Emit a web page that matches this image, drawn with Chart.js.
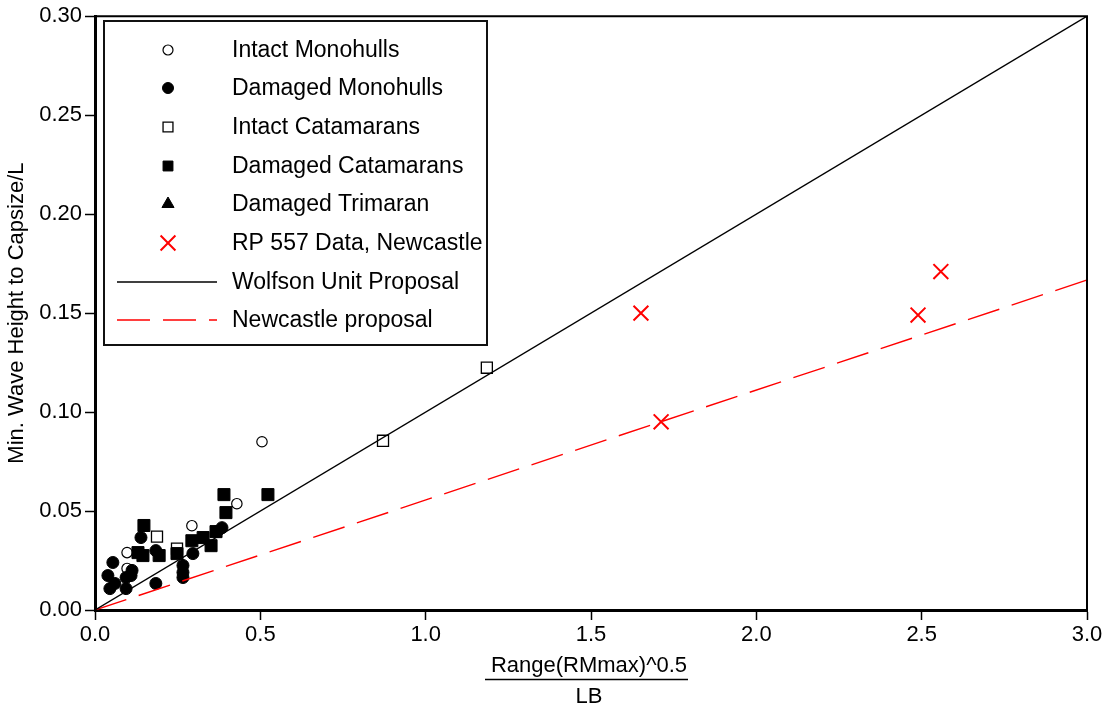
<!DOCTYPE html>
<html>
<head>
<meta charset="utf-8">
<script src="https://cdn.jsdelivr.net/npm/chart.js@4.4.1/dist/chart.umd.min.js"></script>
<style>
  html, body { margin: 0; padding: 0; background: #fff; }
  #wrap { width: 1111px; height: 710px; }
</style>
</head>
<body>
<div id="wrap"><canvas id="capsizeChart" width="1111" height="710"></canvas></div>
<script>
// ----- data -----
const intactMonoX = [0.505, 0.429, 0.293, 0.097, 0.097];
const intactMonoY = [0.085, 0.0537, 0.0426, 0.029, 0.021];

const damagedMonoX = [0.139, 0.054, 0.039, 0.060, 0.045, 0.094, 0.094, 0.112, 0.109, 0.184, 0.184, 0.266, 0.266, 0.266, 0.296, 0.384, 0.369];
const damagedMonoY = [0.0366, 0.024, 0.0174, 0.0134, 0.0108, 0.0108, 0.0164, 0.020, 0.0174, 0.0134, 0.030, 0.0225, 0.019, 0.0164, 0.0285, 0.0416, 0.0396];

const intactCatX = [0.871, 1.185, 0.1875, 0.248];
const intactCatY = [0.0855, 0.1224, 0.0371, 0.031];

const damagedCatX = [0.148, 0.130, 0.145, 0.194, 0.248, 0.293, 0.327, 0.351, 0.366, 0.390, 0.396, 0.523];
const damagedCatY = [0.0427, 0.029, 0.0275, 0.0275, 0.0285, 0.035, 0.0366, 0.0325, 0.0396, 0.0583, 0.0492, 0.0583];

const damagedTriX = [];
const damagedTriY = [];

const rp557X = [1.651, 1.712, 2.489, 2.558];
const rp557Y = [0.150, 0.0951, 0.149, 0.171];

const wolfsonX = [0, 3.0];
const wolfsonY = [0, 0.30];
const newcastleX = [0, 3.0];
const newcastleY = [0, 0.1667];

const xTicks = [0, 0.5, 1.0, 1.5, 2.0, 2.5, 3.0];
const yTicks = [0, 0.05, 0.10, 0.15, 0.20, 0.25, 0.30];

const seriesLabels = [
    'Intact Monohulls',
    'Damaged Monohulls',
    'Intact Catamarans',
    'Damaged Catamarans',
    'Damaged Trimaran',
    'RP 557 Data, Newcastle',
    'Wolfson Unit Proposal',
    'Newcastle proposal'
];

const FONT = '"Liberation Sans", Arial, Helvetica, sans-serif';
Chart.defaults.font.family = FONT;
Chart.defaults.color = '#000';

function zip(xs, ys) {
    return xs.map((x, i) => ({ x: x, y: ys[i] }));
}

// legend box drawn inside the plot, top-left
const boxLegend = {
    id: 'boxLegend',
    afterDraw(chart) {
        const ctx = chart.ctx;
        const left = 104, top = 21, right = 487, bottom = 345;
        const symX = 168, textX = 232;
        const rowY = [50, 88, 127, 166, 204, 243, 282, 320];

        ctx.save();
        ctx.fillStyle = '#fff';
        ctx.fillRect(left, top, right - left, bottom - top);
        ctx.strokeStyle = '#111';
        ctx.lineWidth = 2;
        ctx.strokeRect(left, top, right - left, bottom - top);

        chart.data.datasets.forEach((ds, i) => {
            const y = rowY[i];
            if (ds.showLine) {
                ctx.beginPath();
                ctx.strokeStyle = ds.borderColor;
                ctx.lineWidth = ds.borderWidth;
                ctx.setLineDash(ds.borderDash || []);
                ctx.moveTo(117, y);
                ctx.lineTo(217, y);
                ctx.stroke();
                ctx.setLineDash([]);
            } else {
                ctx.fillStyle = ds.backgroundColor;
                ctx.strokeStyle = ds.borderColor;
                ctx.lineWidth = ds.borderWidth;
                Chart.helpers.drawPoint(ctx, {
                    pointStyle: ds.pointStyle,
                    radius: ds.legendRadius || ds.pointRadius,
                    rotation: 0,
                    borderWidth: ds.borderWidth
                }, symX, y);
            }
            ctx.fillStyle = '#000';
            ctx.font = '23px ' + FONT;
            ctx.textAlign = 'left';
            ctx.textBaseline = 'middle';
            ctx.fillText(ds.label, textX, y + 1);
        });
        ctx.restore();
    }
};

// frame on top/right and the fraction-style x title
const frameAndTitle = {
    id: 'frameAndTitle',
    afterDraw(chart) {
        const ctx = chart.ctx;
        const a = chart.chartArea;
        ctx.save();
        ctx.strokeStyle = '#000';
        ctx.lineWidth = 2;
        ctx.beginPath();
        ctx.moveTo(a.left, a.top);
        ctx.lineTo(a.right, a.top);
        ctx.lineTo(a.right, a.bottom);
        ctx.stroke();

        const cx = 589;
        ctx.fillStyle = '#000';
        ctx.font = '22px ' + FONT;
        ctx.textAlign = 'center';
        ctx.textBaseline = 'alphabetic';
        ctx.fillText('Range(RMmax)^0.5', cx, 672);
        ctx.lineWidth = 1.5;
        ctx.beginPath();
        ctx.moveTo(485, 679.5);
        ctx.lineTo(688, 679.5);
        ctx.stroke();
        ctx.fillText('LB', cx, 703);
        ctx.restore();
    }
};

const ctx = document.getElementById('capsizeChart').getContext('2d');
new Chart(ctx, {
    type: 'scatter',
    data: {
        datasets: [
            {
                label: seriesLabels[0],
                data: zip(intactMonoX, intactMonoY),
                pointStyle: 'circle',
                pointRadius: 5.2,
                legendRadius: 5,
                backgroundColor: '#fff',
                borderColor: '#000',
                borderWidth: 1.2,
                order: 6
            },
            {
                label: seriesLabels[1],
                data: zip(damagedMonoX, damagedMonoY),
                pointStyle: 'circle',
                pointRadius: 6,
                legendRadius: 5.5,
                backgroundColor: '#000',
                borderColor: '#000',
                borderWidth: 1,
                order: 3
            },
            {
                label: seriesLabels[2],
                data: zip(intactCatX, intactCatY),
                pointStyle: 'rect',
                pointRadius: 7.8,
                legendRadius: 7,
                backgroundColor: '#fff',
                borderColor: '#000',
                borderWidth: 1.3,
                order: 5
            },
            {
                label: seriesLabels[3],
                data: zip(damagedCatX, damagedCatY),
                pointStyle: 'rect',
                pointRadius: 8.5,
                legendRadius: 7,
                backgroundColor: '#000',
                borderColor: '#000',
                borderWidth: 1,
                order: 2
            },
            {
                label: seriesLabels[4],
                data: zip(damagedTriX, damagedTriY),
                pointStyle: 'triangle',
                pointRadius: 7,
                backgroundColor: '#000',
                borderColor: '#000',
                borderWidth: 1,
                order: 4
            },
            {
                label: seriesLabels[5],
                data: zip(rp557X, rp557Y),
                pointStyle: 'crossRot',
                pointRadius: 10.5,
                backgroundColor: '#ff0000',
                borderColor: '#ff0000',
                borderWidth: 2,
                order: -1
            },
            {
                label: seriesLabels[6],
                data: zip(wolfsonX, wolfsonY),
                showLine: true,
                pointRadius: 0,
                borderColor: '#000',
                borderWidth: 1.4,
                order: 0
            },
            {
                label: seriesLabels[7],
                data: zip(newcastleX, newcastleY),
                showLine: true,
                pointRadius: 0,
                borderColor: '#ff0000',
                borderWidth: 1.4,
                borderDash: [33, 13],
                order: 1
            }
        ]
    },
    options: {
        responsive: false,
        animation: false,
        layout: { padding: { left: 0, top: 15, right: 24, bottom: 0 } },
        plugins: {
            legend: { display: false },
            tooltip: { enabled: false }
        },
        scales: {
            x: {
                type: 'linear',
                min: 0,
                max: 3,
                afterFit: (scale) => { scale.height = 100; },
                afterBuildTicks: (scale) => { scale.ticks = xTicks.map(v => ({ value: v })); },
                ticks: {
                    font: { size: 22 },
                    color: '#000',
                    padding: 2,
                    maxRotation: 0,
                    callback: (v) => Number(v).toFixed(1)
                },
                grid: {
                    drawOnChartArea: false,
                    drawTicks: true,
                    tickLength: 10,
                    tickWidth: 1.5,
                    tickColor: '#000'
                },
                border: { display: true, color: '#000', width: 3 }
            },
            y: {
                type: 'linear',
                min: 0,
                max: 0.3,
                afterFit: (scale) => { scale.width = 95; },
                afterBuildTicks: (scale) => { scale.ticks = yTicks.map(v => ({ value: v })); },
                ticks: {
                    font: { size: 22 },
                    color: '#000',
                    padding: 3,
                    callback: (v) => Number(v).toFixed(2)
                },
                grid: {
                    drawOnChartArea: false,
                    drawTicks: true,
                    tickLength: 10,
                    tickWidth: 1.5,
                    tickColor: '#000'
                },
                border: { display: true, color: '#000', width: 3 },
                title: {
                    display: true,
                    text: 'Min. Wave Height to Capsize/L',
                    font: { size: 22 },
                    color: '#000',
                    padding: { top: 4, bottom: 0 }
                }
            }
        }
    },
    plugins: [boxLegend, frameAndTitle]
});
</script>
</body>
</html>
